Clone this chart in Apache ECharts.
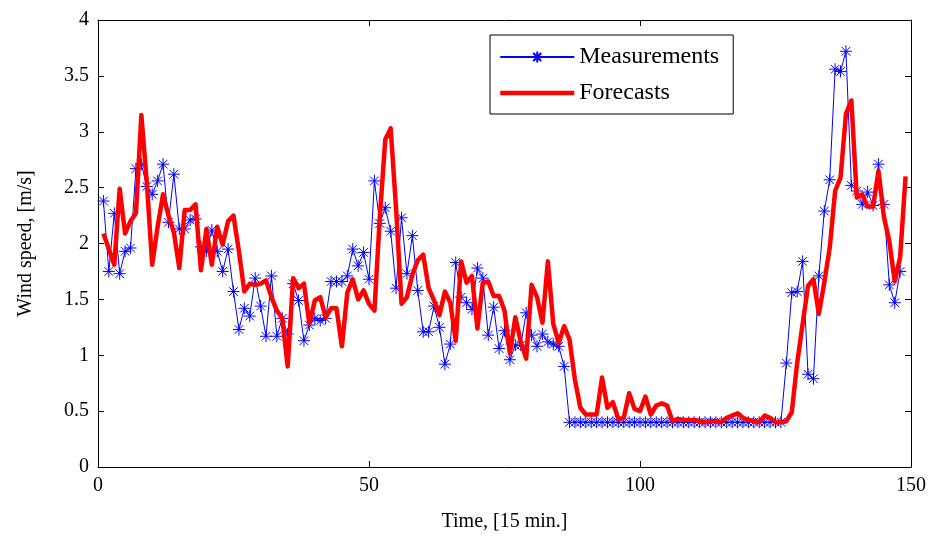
<!DOCTYPE html>
<html>
<head>
<meta charset="utf-8">
<script src="https://cdn.jsdelivr.net/npm/echarts@6/dist/echarts.min.js"></script>
<style>html,body{margin:0;padding:0;background:#fff;}#c{width:935px;height:537px;}</style>
</head>
<body>
<div id="c"></div>
<script>
// Measurements, time steps 1..148
const measurements = [
2.38,1.75,2.27,1.73,1.93,1.96,2.67,2.71,2.51,2.44,
2.56,2.71,2.19,2.62,2.13,2.13,2.21,2.22,1.97,1.93,
2.12,1.93,1.75,1.95,1.57,1.23,1.42,1.35,1.69,1.44,
1.17,1.71,1.17,1.33,1.19,1.64,1.49,1.13,1.27,1.33,
1.31,1.33,1.66,1.66,1.66,1.71,1.95,1.80,1.92,1.68,
2.56,2.18,2.32,2.11,1.60,2.23,1.73,2.07,1.58,1.21,
1.21,1.44,1.25,0.92,1.10,1.83,1.52,1.47,1.41,1.78,
1.69,1.18,1.43,1.06,1.22,0.96,1.09,1.09,1.38,1.18,
1.08,1.19,1.12,1.10,1.08,0.90,0.40,0.40,0.40,0.40,
0.40,0.40,0.40,0.40,0.40,0.40,0.40,0.40,0.40,0.40,
0.40,0.40,0.40,0.40,0.40,0.40,0.40,0.40,0.40,0.40,
0.40,0.40,0.40,0.40,0.40,0.40,0.40,0.40,0.40,0.40,
0.40,0.40,0.40,0.40,0.40,0.40,0.93,1.56,1.57,1.84,
0.83,0.79,1.71,2.29,2.57,3.56,3.54,3.72,2.52,2.47,
2.35,2.46,2.34,2.71,2.35,1.63,1.47,1.75
];
// Forecasts, time steps 1..149
const forecasts = [
2.09,1.95,1.81,2.49,2.09,2.20,2.27,3.15,2.55,1.81,
2.15,2.44,2.25,2.10,1.78,2.30,2.30,2.35,1.76,2.13,
1.81,2.15,1.99,2.20,2.25,1.93,1.57,1.64,1.63,1.64,
1.67,1.52,1.40,1.33,0.90,1.69,1.60,1.64,1.28,1.49,
1.52,1.34,1.42,1.42,1.08,1.56,1.68,1.50,1.58,1.46,
1.40,2.24,2.93,3.03,2.31,1.46,1.52,1.72,1.85,1.90,
1.60,1.49,1.36,1.57,1.47,1.13,1.84,1.65,1.71,1.24,
1.65,1.66,1.53,1.53,1.40,1.02,1.34,1.12,0.97,1.63,
1.52,1.29,1.84,1.28,1.11,1.26,1.14,0.78,0.53,0.47,
0.47,0.47,0.80,0.53,0.58,0.43,0.44,0.66,0.52,0.50,
0.63,0.47,0.55,0.57,0.55,0.41,0.43,0.42,0.42,0.42,
0.41,0.40,0.41,0.41,0.40,0.44,0.46,0.48,0.44,0.42,
0.41,0.40,0.46,0.44,0.40,0.40,0.41,0.49,0.93,1.28,
1.62,1.68,1.37,1.65,1.96,2.47,2.59,3.16,3.28,2.41,
2.44,2.33,2.33,2.65,2.24,2.02,1.66,1.88,2.60
];
const xTicks = [0, 50, 100, 150];
const yTicks = [0, 0.5, 1, 1.5, 2, 2.5, 3, 3.5, 4];

const measData = measurements.map((v, i) => [i + 1, v]);
const foreData = forecasts.map((v, i) => [i + 1, v]);

const font = 'Liberation Serif';
const star = 'path://M0,-5L0,5M-5,0L5,0M-3.6,-3.6L3.6,3.6M-3.6,3.6L3.6,-3.6';

const chart = echarts.init(document.getElementById('c'), null, {renderer: 'canvas'});
const baseX = {
  type: 'value', min: xTicks[0], max: xTicks[xTicks.length - 1], interval: 50,
  splitLine: {show: false},
  axisLine: {show: true, onZero: false, lineStyle: {color: '#000', width: 1}},
  axisTick: {show: true, inside: true, length: 6, lineStyle: {color: '#000'}}
};
const baseY = {
  type: 'value', min: yTicks[0], max: yTicks[yTicks.length - 1], interval: 0.5,
  splitLine: {show: false},
  axisLine: {show: true, onZero: false, lineStyle: {color: '#000', width: 1}},
  axisTick: {show: true, inside: true, length: 6, lineStyle: {color: '#000'}}
};
chart.setOption({
  animation: false,
  backgroundColor: '#fff',
  grid: {left: 98, right: 24, top: 20, bottom: 65, show: false},
  legend: {
    show: true,
    orient: 'vertical',
    left: 490, top: 35,
    padding: [10, 14, 9, 8],
    itemGap: 12,
    itemWidth: 74, itemHeight: 14,
    borderColor: '#000', borderWidth: 1,
    backgroundColor: '#fff',
    textStyle: {fontFamily: font, fontSize: 24, color: '#000', padding: [0, 0, 0, 0]},
    data: [
      {name: 'Measurements'},
      {name: 'Forecasts', itemStyle: {opacity: 0}, lineStyle: {width: 4.5}}
    ]
  },
  xAxis: [
    Object.assign({}, baseX, {
      position: 'bottom',
      name: 'Time, [15 min.]', nameLocation: 'middle', nameGap: 45,
      nameTextStyle: {fontFamily: font, fontSize: 20, color: '#000'},
      axisLabel: {fontFamily: font, fontSize: 20, color: '#000', margin: 9}
    }),
    Object.assign({}, baseX, {position: 'top', axisLabel: {show: false}})
  ],
  yAxis: [
    Object.assign({}, baseY, {
      position: 'left',
      name: 'Wind speed, [m/s]', nameLocation: 'middle', nameGap: 62,
      nameTextStyle: {fontFamily: font, fontSize: 20, color: '#000'},
      axisLabel: {fontFamily: font, fontSize: 20, color: '#000', margin: 9}
    }),
    Object.assign({}, baseY, {position: 'right', axisLabel: {show: false}})
  ],
  series: [
    {
      name: 'Measurements', type: 'line', data: measData,
      xAxisIndex: 0, yAxisIndex: 0,
      symbol: star, symbolSize: 12, showAllSymbol: true,
      lineStyle: {color: '#0000ff', width: 1},
      itemStyle: {color: '#0000ff', borderColor: '#0000ff', borderWidth: 1},
      z: 2
    },
    {
      name: 'Forecasts', type: 'line', data: foreData,
      xAxisIndex: 0, yAxisIndex: 0,
      symbol: 'none', showSymbol: false,
      lineStyle: {color: '#ff0000', width: 4.5, join: 'round'},
      itemStyle: {color: '#ff0000'},
      z: 3
    }
  ]
});
</script>
</body>
</html>
